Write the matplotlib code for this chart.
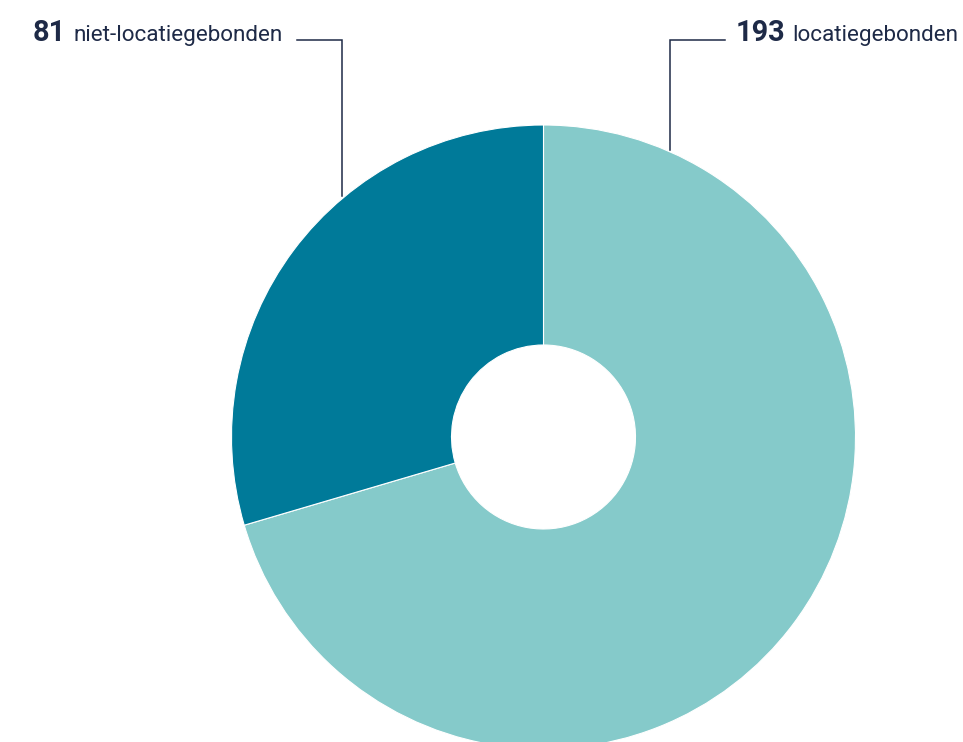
import numpy as np
import matplotlib.pyplot as plt

labels = ["locatiegebonden", "niet-locatiegebonden"]
values = [193, 81]
colors = ["#85caca", "#007a99"]
text_color = "#1e2a47"

W, H = 963, 742
fig = plt.figure(figsize=(W / 100, H / 100), dpi=100)
ax = fig.add_axes([0, 0, 1, 1])

cx, cy, r = 543.5, H - 437, 312
ax.pie(values, colors=colors, startangle=90, counterclock=False,
       center=(cx, cy), radius=r, frame=True,
       wedgeprops=dict(width=r - 92, edgecolor="white", linewidth=0.8))
ax.set_xlim(0, W)
ax.set_ylim(0, H)
ax.axis("off")

# leader lines: from the rim up to the label row
base_y = H - 41
line_y = H - 40
angles = [23.8, -40.0]  # degrees from top, clockwise
ends = [725, 297]
for ang, xe in zip(angles, ends):
    a = np.radians(ang)
    px = cx + (r + 2) * np.sin(a)
    py = cy + (r + 2) * np.cos(a)
    ax.plot([px, px, xe], [py, line_y, line_y], color=text_color, lw=1.1,
            solid_joinstyle="miter")

font = "Roboto"
ax.text(736, base_y, str(values[0]), fontsize=20.8, fontweight="bold",
        family=font, color=text_color, va="baseline", ha="left")
ax.text(792, base_y, labels[0], fontsize=16.2, family=font, color=text_color,
        va="baseline", ha="left")
ax.text(33, base_y, str(values[1]), fontsize=20.8, fontweight="bold",
        family=font, color=text_color, va="baseline", ha="left")
ax.text(73, base_y, labels[1], fontsize=16.2, family=font, color=text_color,
        va="baseline", ha="left")

fig.savefig("out.png", dpi=100)
